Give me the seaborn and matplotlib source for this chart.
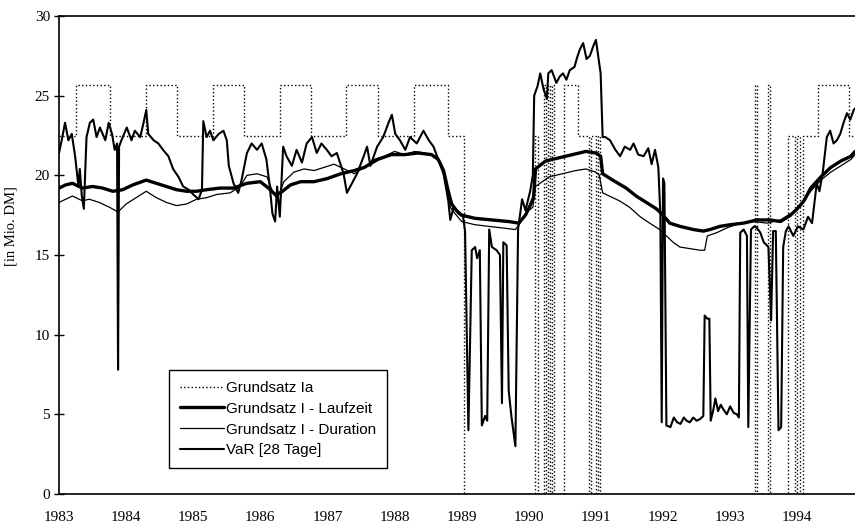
"""Grundsatz I / Ia vs. VaR [28 Tage], 1983-1994 (Nachbau eines gescannten Diagramms)."""

import matplotlib

matplotlib.use("Agg")
import matplotlib.pyplot as plt
import seaborn as sns

# Grundsatz Ia: Stufenfunktion (Jahr, Wert ab diesem Zeitpunkt)
ia_year = [1983.00, 1983.26, 1983.76, 1984.30, 1984.76, 1985.29, 1985.76, 1986.30,
           1986.75, 1987.28, 1987.76, 1988.29, 1988.79, 1989.03,
           1990.09, 1990.13, 1990.22, 1990.25, 1990.28, 1990.31, 1990.35, 1990.38,
           1990.53, 1990.74, 1990.90, 1990.93, 1991.00, 1991.03, 1991.06,
           1993.37, 1993.40, 1993.57, 1993.60, 1993.86, 1993.97, 1993.99, 1994.04,
           1994.08, 1994.31, 1994.77, 1994.86]
ia_val = [22.5, 25.7, 22.5, 25.7, 22.5, 25.7, 22.5, 25.7,
          22.5, 25.7, 22.5, 25.7, 22.5, 0.0,
          22.5, 0.0, 25.7, 0.0, 25.7, 0.0, 25.7, 0.0,
          25.7, 22.5, 0.0, 22.5, 0.0, 22.5, 0.0,
          25.7, 0.0, 25.7, 0.0, 22.5, 0.0, 22.5, 0.0,
          22.5, 25.7, 22.5, 22.5]

# Grundsatz I - Laufzeit
lz_year = [1983.00, 1983.10, 1983.20, 1983.35, 1983.50, 1983.65, 1983.80, 1983.95,
           1984.10, 1984.30, 1984.45, 1984.60, 1984.75, 1984.90, 1985.05, 1985.20,
           1985.40, 1985.60, 1985.80, 1986.00, 1986.12, 1986.22, 1986.30, 1986.45,
           1986.60, 1986.80, 1987.00, 1987.20, 1987.40, 1987.55, 1987.75, 1987.95,
           1988.15, 1988.35, 1988.55, 1988.65, 1988.73, 1988.80, 1988.85, 1988.92,
           1989.00, 1989.20, 1989.45, 1989.70, 1989.85, 1989.95, 1990.03, 1990.07,
           1990.10, 1990.25, 1990.45, 1990.65, 1990.85, 1991.00, 1991.07, 1991.10,
           1991.25, 1991.45, 1991.60, 1991.75, 1991.90, 1992.00, 1992.10, 1992.25,
           1992.45, 1992.60, 1992.70, 1992.85, 1993.00, 1993.20, 1993.40, 1993.60,
           1993.75, 1993.90, 1994.00, 1994.10, 1994.20, 1994.35, 1994.50, 1994.65,
           1994.80, 1994.86]
lz_val = [19.2, 19.4, 19.5, 19.2, 19.3, 19.2, 19.0, 19.1,
          19.4, 19.7, 19.5, 19.3, 19.1, 19.0, 19.0, 19.1,
          19.2, 19.2, 19.5, 19.6, 19.2, 18.8, 18.9, 19.4,
          19.6, 19.6, 19.8, 20.1, 20.3, 20.5, 21.0, 21.3,
          21.3, 21.4, 21.3, 21.0, 20.3, 19.0, 18.2, 17.8,
          17.5, 17.3, 17.2, 17.1, 17.0, 17.5, 18.2, 18.6,
          20.4, 20.9, 21.1, 21.3, 21.5, 21.4, 21.2, 20.1,
          19.7, 19.2, 18.7, 18.3, 17.9, 17.5, 17.0, 16.8,
          16.6, 16.5, 16.6, 16.8, 16.9, 17.0, 17.2, 17.2,
          17.1, 17.5, 17.9, 18.4, 19.2, 19.9, 20.5, 20.9,
          21.2, 21.5]

# Grundsatz I - Duration
du_year = [1983.00, 1983.10, 1983.20, 1983.35, 1983.45, 1983.60, 1983.75, 1983.88,
           1984.00, 1984.15, 1984.30, 1984.45, 1984.60, 1984.75, 1984.90, 1985.05,
           1985.20, 1985.35, 1985.55, 1985.70, 1985.80, 1985.95, 1986.10, 1986.18,
           1986.25, 1986.35, 1986.50, 1986.65, 1986.80, 1986.95, 1987.10, 1987.25,
           1987.40, 1987.55, 1987.70, 1987.85, 1988.00, 1988.15, 1988.30, 1988.45,
           1988.60, 1988.70, 1988.78, 1988.83, 1988.90, 1989.00, 1989.20, 1989.40,
           1989.60, 1989.80, 1989.90, 1990.00, 1990.06, 1990.10, 1990.30, 1990.50,
           1990.70, 1990.85, 1991.00, 1991.05, 1991.10, 1991.20, 1991.35, 1991.50,
           1991.66, 1991.80, 1991.95, 1992.05, 1992.15, 1992.25, 1992.40, 1992.55,
           1992.62, 1992.66, 1992.80, 1992.95, 1993.15, 1993.35, 1993.55, 1993.75,
           1993.90, 1994.00, 1994.10, 1994.20, 1994.35, 1994.50, 1994.65, 1994.80,
           1994.86]
du_val = [18.3, 18.5, 18.7, 18.4, 18.5, 18.3, 18.0, 17.7,
          18.2, 18.6, 19.0, 18.6, 18.3, 18.1, 18.2, 18.5,
          18.6, 18.8, 18.9, 19.3, 20.0, 20.1, 19.9, 19.0,
          18.5, 19.6, 20.2, 20.4, 20.3, 20.5, 20.7, 20.4,
          20.1, 20.5, 21.0, 21.2, 21.5, 21.3, 21.5, 21.4,
          21.2, 20.6, 19.5, 18.0, 17.6, 17.1, 16.9, 16.8,
          16.7, 16.6, 17.2, 17.8, 18.0, 19.3, 19.9, 20.1,
          20.3, 20.4, 20.2, 20.0, 18.9, 18.7, 18.4, 18.0,
          17.4, 17.0, 16.6, 16.2, 15.8, 15.5, 15.4, 15.3,
          15.3, 16.2, 16.4, 16.7, 17.0, 17.1, 17.0, 17.2,
          17.6, 17.9, 18.4, 19.0, 19.7, 20.2, 20.6, 21.0,
          21.3]

# VaR [28 Tage]
var_year = [1983.00, 1983.04, 1983.09, 1983.14, 1983.19, 1983.24, 1983.29, 1983.31,
            1983.34, 1983.37, 1983.41, 1983.46, 1983.51, 1983.56, 1983.61, 1983.69,
            1983.74, 1983.79, 1983.83, 1983.865, 1983.88, 1983.895, 1983.93, 1984.01,
            1984.08, 1984.13, 1984.21, 1984.26, 1984.30, 1984.33, 1984.41, 1984.48,
            1984.55, 1984.63, 1984.70, 1984.78, 1984.85, 1984.93, 1985.00, 1985.08,
            1985.13, 1985.15, 1985.20, 1985.25, 1985.30, 1985.38, 1985.45, 1985.50,
            1985.53, 1985.60, 1985.67, 1985.72, 1985.80, 1985.87, 1985.95, 1986.02,
            1986.09, 1986.14, 1986.18, 1986.22, 1986.25, 1986.29, 1986.34, 1986.39,
            1986.47, 1986.54, 1986.62, 1986.69, 1986.77, 1986.84, 1986.91, 1986.99,
            1987.06, 1987.14, 1987.24, 1987.29, 1987.34, 1987.44, 1987.54, 1987.59,
            1987.64, 1987.74, 1987.83, 1987.91, 1987.96, 1988.01, 1988.08, 1988.16,
            1988.23, 1988.33, 1988.43, 1988.51, 1988.58, 1988.66, 1988.73, 1988.80,
            1988.83, 1988.88, 1988.95, 1989.02, 1989.05, 1989.10, 1989.15, 1989.20,
            1989.23, 1989.27, 1989.30, 1989.35, 1989.38, 1989.41, 1989.45, 1989.52,
            1989.57, 1989.60, 1989.62, 1989.67, 1989.70, 1989.74, 1989.80, 1989.84,
            1989.90, 1989.95, 1990.02, 1990.06, 1990.08, 1990.13, 1990.17, 1990.22,
            1990.27, 1990.29, 1990.34, 1990.41, 1990.46, 1990.51, 1990.56, 1990.61,
            1990.68, 1990.72, 1990.76, 1990.81, 1990.86, 1990.91, 1990.96, 1991.00,
            1991.04, 1991.07, 1991.10, 1991.14, 1991.21, 1991.29, 1991.36, 1991.43,
            1991.51, 1991.56, 1991.63, 1991.71, 1991.78, 1991.83, 1991.88, 1991.93,
            1991.96, 1991.98, 1992.00, 1992.02, 1992.05, 1992.11, 1992.16, 1992.21,
            1992.26, 1992.31, 1992.35, 1992.40, 1992.45, 1992.50, 1992.55, 1992.60,
            1992.62, 1992.66, 1992.69, 1992.71, 1992.75, 1992.78, 1992.82, 1992.86,
            1992.90, 1992.95, 1993.00, 1993.05, 1993.10, 1993.13, 1993.15, 1993.20,
            1993.25, 1993.27, 1993.31, 1993.36, 1993.40, 1993.45, 1993.50, 1993.57,
            1993.61, 1993.64, 1993.68, 1993.72, 1993.76, 1993.79, 1993.83, 1993.87,
            1993.94, 1994.01, 1994.09, 1994.16, 1994.22, 1994.29, 1994.33, 1994.38,
            1994.44, 1994.49, 1994.54, 1994.59, 1994.64, 1994.69, 1994.74, 1994.79,
            1994.84, 1994.86]
var_val = [21.4, 22.2, 23.3, 22.2, 22.6, 21.2, 19.3, 20.4,
           18.7, 17.9, 22.4, 23.3, 23.5, 22.4, 23.0, 22.2,
           23.3, 22.6, 21.6, 22.0, 7.8, 21.8, 22.2, 23.0,
           22.2, 22.8, 22.4, 23.3, 24.1, 22.6, 22.2, 22.0,
           21.6, 21.2, 20.4, 19.9, 19.3, 19.1, 18.8, 18.5,
           19.1, 23.4, 22.4, 22.8, 22.2, 22.6, 22.8, 22.2,
           20.6, 19.5, 18.9, 19.7, 21.4, 22.0, 21.6, 22.0,
           21.0, 19.3, 17.6, 17.1, 19.3, 17.4, 21.8, 21.2,
           20.6, 21.6, 20.8, 22.0, 22.4, 21.4, 22.0, 21.6,
           21.2, 21.4, 20.1, 18.9, 19.3, 20.1, 21.2, 21.8,
           20.6, 21.8, 22.4, 23.3, 23.8, 22.6, 22.2, 21.6,
           22.4, 22.0, 22.8, 22.2, 21.8, 20.9, 20.1, 18.4,
           17.2, 18.0, 17.6, 17.4, 16.5, 4.0, 15.3, 15.5,
           14.8, 15.3, 4.3, 4.9, 4.6, 16.6, 15.5, 15.3,
           15.0, 5.7, 15.8, 15.6, 6.5, 4.9, 3.0, 16.6,
           18.5, 17.8, 19.0, 20.0, 25.0, 25.6, 26.4, 25.4,
           24.8, 26.4, 26.6, 25.8, 26.2, 26.4, 26.0, 26.6,
           26.8, 27.4, 27.9, 28.3, 27.3, 27.5, 28.1, 28.5,
           27.3, 26.4, 22.4, 22.4, 22.2, 21.6, 21.2, 21.8,
           21.6, 22.0, 21.3, 21.2, 21.7, 20.7, 21.6, 20.5,
           17.5, 4.5, 19.8, 19.5, 4.3, 4.2, 4.8, 4.5,
           4.4, 4.8, 4.6, 4.5, 4.8, 4.6, 4.7, 4.9,
           11.2, 11.0, 11.0, 4.6, 5.3, 6.0, 5.2, 5.6,
           5.3, 5.0, 5.5, 5.1, 5.0, 4.8, 16.4, 16.6,
           16.2, 4.2, 16.6, 16.8, 16.7, 16.4, 15.8, 15.5,
           10.9, 16.5, 16.5, 4.0, 4.2, 15.5, 16.5, 16.8,
           16.2, 16.8, 16.6, 17.4, 17.0, 19.5, 19.0, 20.2,
           22.4, 22.8, 22.0, 22.2, 22.6, 23.3, 23.9, 23.5,
           24.1, 24.2]

year_ticks = list(range(1983, 1995))
value_ticks = [0, 5, 10, 15, 20, 25, 30]

OUT_PNG = "out.png"


def main() -> int:
    sns.set_theme(style="ticks")
    plt.rcParams["font.family"] = ["Liberation Serif", "DejaVu Serif"]
    plt.rcParams["text.color"] = "black"
    plt.rcParams["axes.labelcolor"] = "black"
    plt.rcParams["xtick.color"] = "black"
    plt.rcParams["ytick.color"] = "black"

    fig = plt.figure(figsize=(8.55, 5.25), dpi=100)
    ax = fig.add_axes([59 / 855, 31 / 525, 796 / 855, 478 / 525])

    sns.lineplot(x=ia_year, y=ia_val, ax=ax, color="black", lw=1.0, linestyle=":",
                 drawstyle="steps-post", estimator=None, sort=False, label="Grundsatz Ia")
    sns.lineplot(x=lz_year, y=lz_val, ax=ax, color="black", lw=2.4,
                 estimator=None, sort=False, label="Grundsatz I - Laufzeit")
    sns.lineplot(x=du_year, y=du_val, ax=ax, color="black", lw=0.9,
                 estimator=None, sort=False, label="Grundsatz I - Duration")
    sns.lineplot(x=var_year, y=var_val, ax=ax, color="black", lw=1.5,
                 estimator=None, sort=False, label="VaR [28 Tage]")

    ax.set_xlim(1983, 1994.86)
    ax.set_ylim(0, 30)
    ax.set_xticks(year_ticks)
    ax.set_xticklabels([str(y) for y in year_ticks], fontsize=11)
    ax.set_yticks(value_ticks)
    ax.set_yticklabels([str(v) for v in value_ticks], fontsize=11)
    ax.tick_params(axis="x", length=0, pad=12)
    ax.tick_params(axis="y", direction="inout", length=7, width=1, pad=3)
    ax.set_xlabel("")
    ax.set_ylabel("[in Mio. DM]", fontsize=10.5)
    ax.yaxis.set_label_coords(-0.052, 0.56)

    for side in ("left", "bottom", "top"):
        ax.spines[side].set_color("black")
        ax.spines[side].set_linewidth(1.2)
    ax.spines["right"].set_visible(False)

    leg = ax.legend(loc="lower left", bbox_to_anchor=(0.138, 0.054), frameon=True,
                    fancybox=False, edgecolor="black", framealpha=1,
                    handlelength=2.9, handletextpad=0.15, labelspacing=0.45,
                    borderpad=0.7, borderaxespad=0,
                    prop={"family": ["Liberation Sans", "DejaVu Sans"], "size": 11})
    leg.get_frame().set_linewidth(1.0)

    fig.savefig(OUT_PNG, dpi=100)
    plt.close(fig)
    return 0


if __name__ == "__main__":
    raise SystemExit(main())
